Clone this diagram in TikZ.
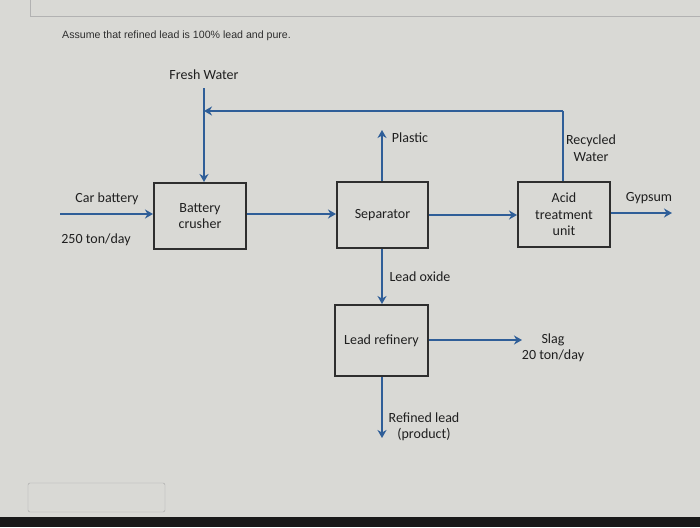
\documentclass[tikz,border=0pt]{standalone}
\usepackage{fontspec}
\setmainfont{Carlito}
\newfontfamily\arialf{Liberation Sans}
\usetikzlibrary{arrows.meta}
\definecolor{bg}{HTML}{D9D9D5}
\definecolor{flow}{HTML}{2F5E98}
\definecolor{boxc}{HTML}{2E2E2E}
\tikzset{
  unitbox/.style={draw=boxc, line width=2pt, fill=bg, align=center, font=\fontsize{14}{16.5}\selectfont, text=black!88},
  flowline/.style={draw=flow, line width=2.1pt, -{Stealth[length=8pt,width=9pt,inset=2.5pt]}},
  plainflow/.style={draw=flow, line width=2.1pt},
  lbl/.style={align=center, font=\fontsize{14}{16.5}\selectfont, text=black!88, inner sep=0pt},
}
\begin{document}
\begin{tikzpicture}[x=1pt,y=-1pt]
\useasboundingbox (0,0) rectangle (700,527);
\fill[bg] (0,0) rectangle (700,527);
\draw[black!30, line width=1pt] (30,0) -- (30,17) -- (700,17);
\fill[black!90] (0,517) rectangle (700,527);
\node[draw=black!35, rounded corners=2pt, minimum width=137pt, minimum height=29pt, inner sep=0pt] (ansbox) at (96.5,497.5) {};
\node[anchor=west, font=\arialf\fontsize{10.6}{12}\selectfont, text=black!82, inner sep=0pt] (note) at (62,36) {Assume that refined lead is 100\% lead and pure.};

% units
\node[unitbox, minimum width=92pt, minimum height=66pt] (crusher) at (200,216) {Battery\\crusher};
\node[unitbox, minimum width=91pt, minimum height=66pt] (sep) at (382.5,215) {Separator};
\node[unitbox, minimum width=92pt, minimum height=65pt] (acid) at (564,214.5) {Acid\\treatment\\unit};
\node[unitbox, minimum width=93pt, minimum height=71pt] (refinery) at (381.5,340.5) {Lead refinery};

% labels
\node[lbl] (fw) at (204,75) {Fresh Water};
\node[lbl] (carbat) at (107,199) {Car battery};
\node[lbl] (rate) at (96,240) {250 ton/day};
\node[lbl] (plastic) at (410,138) {Plastic};
\node[lbl] (recyc) at (591,148) {Recycled\\Water};
\node[lbl] (gyps) at (649,198) {Gypsum};
\node[lbl] (leadox) at (420,277) {Lead oxide};
\node[lbl] (slag) at (553,348) {Slag\\20 ton/day};
\node[lbl] (reflead) at (424,427) {Refined lead\\(product)};

% coordinates for free ends
\coordinate (fwtop) at (204,88);
\coordinate (recycTop) at (563,111);
\coordinate (recycEnd) at (204,111);
\coordinate (carIn) at (60,214);
\coordinate (plasticEnd) at (382,130);
\coordinate (gypEnd) at (672,213);
\coordinate (slagEnd) at (522,340);
\coordinate (prodEnd) at (382,438);

% flows
\draw[flowline] (fwtop) -- (fwtop |- crusher.north);
\draw[plainflow] (acid.north -| recycTop) -- (recycTop);
\draw[flowline] (recycTop) -- (recycEnd);
\draw[flowline] (carIn) -- (carIn -| crusher.west);
\draw[flowline] (crusher.east |- 0,214) -- (sep.west |- 0,214);
\draw[flowline] (sep.north -| plasticEnd) -- (plasticEnd);
\draw[flowline] (sep.east |- 0,215) -- (acid.west |- 0,215);
\draw[flowline] (acid.east |- gypEnd) -- (gypEnd);
\draw[flowline] (sep.south -| 382,0) -- (refinery.north -| 382,0);
\draw[flowline] (refinery.east |- slagEnd) -- (slagEnd);
\draw[flowline] (refinery.south -| prodEnd) -- (prodEnd);
\end{tikzpicture}
\end{document}
